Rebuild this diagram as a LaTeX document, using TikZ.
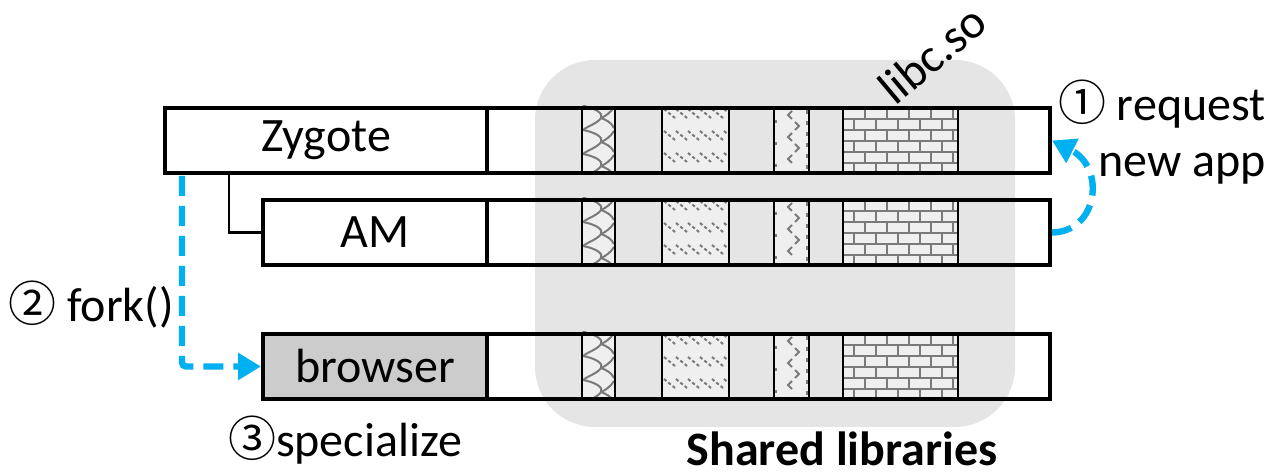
\documentclass[tikz,border=0pt]{standalone}
\usepackage{fontspec}
\setmainfont{Carlito}
\newfontfamily\symfont{Noto Sans CJK SC}
\usetikzlibrary{calc,arrows.meta}

\definecolor{libgrey}{HTML}{E5E5E5}
\definecolor{flowblue}{HTML}{00B0F0}
\definecolor{hatch}{HTML}{7A7A7A}
\definecolor{cellfill}{HTML}{EFEFEF}
\definecolor{procgrey}{HTML}{CCCCCC}

% circled step number
\newcommand\stepnum[1]{{\symfont\fontsize{24}{28}\selectfont #1}}

% the four shared-library cells of one process row; #1 = top edge (px)
\newcommand\libcells[1]{%
  \pgfmathsetmacro\tp{#1}%
  \pgfmathsetmacro\bt{#1+65}%
  \foreach \a/\b in {582/615,662/729,774/809,843/958}{\fill[cellfill] (\a,\tp) rectangle (\b,\bt);}
  % scale texture
  \begin{scope}
    \clip (582,\tp) rectangle (615,\bt);
    \foreach \k in {-1,0,1,2,3}{
      \pgfmathsetmacro\yy{\tp+\k*24}
      \draw[hatchline] (583,\yy) .. controls (594,\yy+2) and (604,\yy+7) .. (601,\yy+12)
                       .. controls (598,\yy+17) and (588,\yy+20) .. (583,\yy+24);
      \draw[hatchline] (601,\yy+12) .. controls (606,\yy+14) and (611,\yy+16) .. (614,\yy+22);
      \draw[hatchline] (601,\yy+12) .. controls (606,\yy+10) and (611,\yy+6) .. (614,\yy+1);
    }
  \end{scope}
  % diagonal dash texture
  \begin{scope}
    \clip (662,\tp) rectangle (729,\bt);
    \foreach \r in {3,25,47}{
      \foreach \x in {664,676,...,724}{
        \draw[hatchline,dash pattern=on 1.6pt off 1.2pt] (\x,\tp+\r) -- (\x+11,\tp+\r+9);
      }
    }
  \end{scope}
  % chevron texture
  \begin{scope}
    \clip (774,\tp) rectangle (809,\bt);
    \foreach \yy in {9,31,53}{
      \draw[hatchline] (792,\tp+\yy-4) -- (788,\tp+\yy) -- (792,\tp+\yy+4);
    }
    \foreach \yy in {20,42}{
      \draw[hatchline] (795,\tp+\yy-4) -- (799,\tp+\yy) -- (795,\tp+\yy+4);
    }
    \foreach \yy in {4,15,26,37,48,59}{
      \draw[hatchline] (807,\tp+\yy) -- (807,\tp+\yy+4);
    }
    \foreach \yy in {14,36,58}{
      \draw[hatchline] (776,\tp+\yy) -- (776,\tp+\yy+3);
    }
  \end{scope}
  % brick texture
  \begin{scope}
    \clip (843,\tp) rectangle (958,\bt);
    \foreach \i in {0,...,6}{
      \pgfmathsetmacro\yy{\tp+2+11*\i}
      \draw[brickline] (843,\yy) -- (958,\yy);
      \pgfmathsetmacro\off{mod(\i,2)*11}
      \foreach \j in {0,...,5}{
        \draw[brickline] (843+\off+22*\j,\yy) -- (843+\off+22*\j,\yy+11);
      }
    }
  \end{scope}
  % cell borders
  \foreach \x in {582,615,662,729,774,809,843,958}{
    \draw[celledge] (\x,\tp) -- (\x,\bt);
  }
}

\begin{document}
\begin{tikzpicture}[x=0.5pt,y=-0.5pt,
  txt/.style={font=\fontsize{24}{28}\selectfont,inner sep=0pt},
  bar/.style={draw=black,line width=2pt,inner sep=0pt,minimum height=32.5pt,anchor=north west},
  proc/.style={bar,fill=white,minimum width=#1,txt},
  rest/.style={bar,minimum width=281.5pt},
  hatchline/.style={draw=hatch,line width=1pt},
  brickline/.style={draw=hatch,line width=1.2pt},
  celledge/.style={draw=black,line width=1.2pt},
  tree/.style={draw=black,line width=1.4pt},
  flow/.style={draw=flowblue,line width=3.2pt,dash pattern=on 10pt off 5pt,
    rounded corners=2pt,-{Triangle[length=11.5pt,width=13pt]}},
]
\useasboundingbox (0,0) rectangle (1282,475);

% shared library region
\fill[libgrey,rounded corners=30pt] (535,60) rectangle (1015,427);
\node[txt,rotate=40] (libc) at (932,54) {libc.so};
\node[txt,font=\fontsize{24}{28}\selectfont\bfseries] (shared) at (842,449) {Shared libraries};

% library cells in each process row
\libcells{106}
\libcells{198}
\libcells{332}

% process rows
\node[proc=161pt] (zyg) at (163,106) {Zygote};
\node[rest] (zrest) at (485,106) {};
\node[proc=112pt] (am) at (261,198) {AM};
\node[rest] (amrest) at (485,198) {};
\node[proc=112pt,fill=procgrey] (brw) at (261,332) {browser};
\node[rest] (brest) at (485,332) {};

% parent link Zygote -> AM
\draw[tree] ($(zyg.south west)+(66,0)$) |- (am.west);

% step 1: request new app
\draw[flow] (amrest.east) .. controls (1098,232) and (1106,168) .. (zrest.east);
\node[txt,align=right,anchor=east] (req) at (1266,132) {\stepnum{①} request\\new app};

% step 2: fork
\draw[flow] ($(zyg.south west)+(19,1)$) |- (brw.west);
\node[txt] (fork) at (91,305) {\stepnum{②} fork()};

% step 3: specialize
\node[txt] (spec) at (345,440) {\stepnum{③}specialize};
\end{tikzpicture}
\end{document}
